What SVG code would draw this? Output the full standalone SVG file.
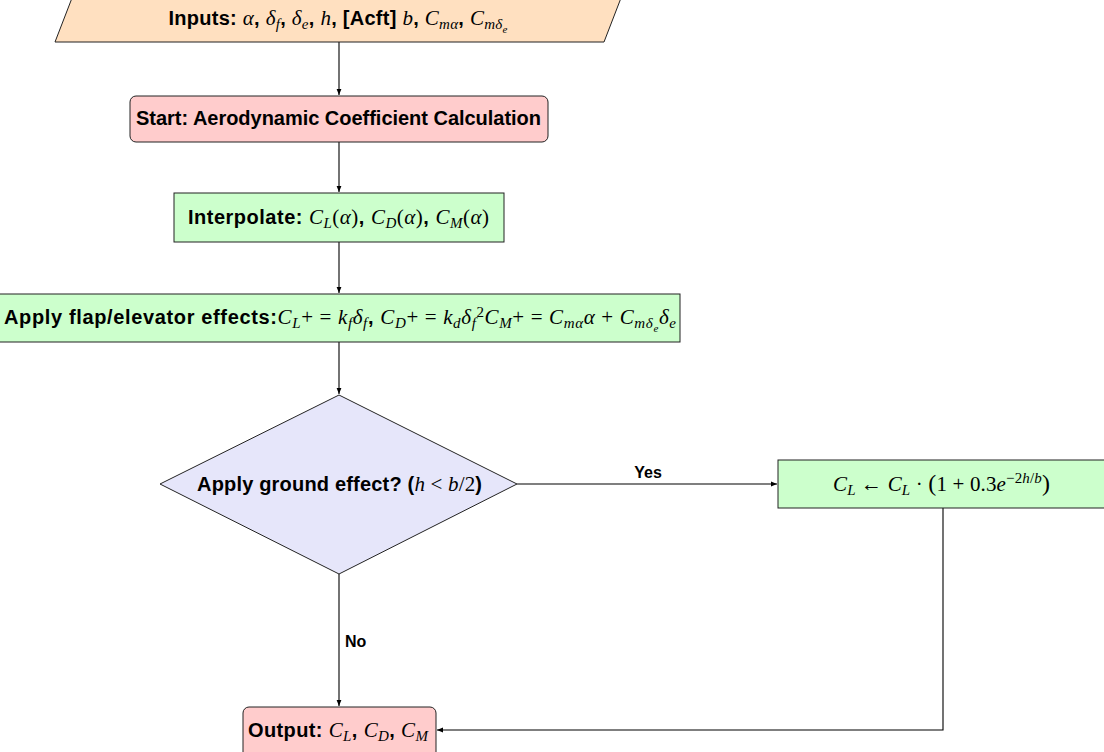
<svg xmlns="http://www.w3.org/2000/svg" width="1104" height="752" viewBox="0 0 1104 752">
<style>
.lbl{font-family:"Liberation Sans",Arial,sans-serif;font-weight:bold;font-size:20px;fill:#000}
.m{font-family:"Liberation Serif","Times New Roman",serif;font-style:italic;font-weight:normal;font-size:21px}
.r{font-family:"Liberation Serif","Times New Roman",serif;font-style:normal;font-weight:normal;font-size:21px}
.s{font-size:15px}
.ss{font-size:11px}
.edge{fill:none;stroke:#000;stroke-width:1.1}
.yn{font-family:"Liberation Sans",Arial,sans-serif;font-weight:bold;font-size:16px;fill:#000}
</style>
<defs>
<marker id="ah" viewBox="0 0 10 10" refX="10" refY="5" markerWidth="6" markerHeight="6" markerUnits="userSpaceOnUse" orient="auto">
<path d="M0,1 L10,5 L0,9 z" fill="#000"/>
</marker>
</defs>
<rect width="1104" height="752" fill="#fff"/>
<g id="connectors">
<path class="edge" d="M339,42 L339,95" marker-end="url(#ah)"/>
<path class="edge" d="M339,142 L339,192" marker-end="url(#ah)"/>
<path class="edge" d="M339,242 L339,293" marker-end="url(#ah)"/>
<path class="edge" d="M339,342 L339,394" marker-end="url(#ah)"/>
<path class="edge" d="M517,484 L777,484" marker-end="url(#ah)"/>
<text class="yn" x="648" y="478" text-anchor="middle">Yes</text>
<path class="edge" d="M339,574 L339,706" marker-end="url(#ah)"/>
<text class="yn" x="345" y="647">No</text>
<path class="edge" d="M943,508 L943,730 L437,730" marker-end="url(#ah)"/>
</g>
<g id="inputs">
<polygon points="72,-2 621,-2 604,42 55,42" fill="#ffe0c0" stroke="#222" stroke-width="1"/>
<text class="lbl" x="338" y="25" text-anchor="middle" textLength="339" lengthAdjust="spacing">Inputs: <tspan class="m">α</tspan>, <tspan class="m">δ</tspan><tspan class="m s" baseline-shift="-4">f</tspan>, <tspan class="m">δ</tspan><tspan class="m s" baseline-shift="-4">e</tspan>, <tspan class="m">h</tspan>, [Acft] <tspan class="m">b</tspan>, <tspan class="m">C</tspan><tspan class="m s" baseline-shift="-4">mα</tspan>, <tspan class="m">C</tspan><tspan class="m s" baseline-shift="-4">mδ</tspan><tspan class="m ss" baseline-shift="-8">e</tspan></text>
</g>
<g id="start">
<rect x="130" y="96" width="418" height="46" rx="6" fill="#ffcccc" stroke="#222" stroke-width="1"/>
<text class="lbl" x="338.5" y="125" text-anchor="middle" textLength="405" lengthAdjust="spacing">Start: Aerodynamic Coefficient Calculation</text>
</g>
<g id="interpolate">
<rect x="174" y="193" width="330" height="49" fill="#ccffcc" stroke="#222" stroke-width="1"/>
<text class="lbl" x="338.5" y="224" text-anchor="middle" textLength="301" lengthAdjust="spacing">Interpolate: <tspan class="m">C</tspan><tspan class="m s" baseline-shift="-4">L</tspan><tspan class="r">(</tspan><tspan class="m">α</tspan><tspan class="r">)</tspan>, <tspan class="m">C</tspan><tspan class="m s" baseline-shift="-4">D</tspan><tspan class="r">(</tspan><tspan class="m">α</tspan><tspan class="r">)</tspan>, <tspan class="m">C</tspan><tspan class="m s" baseline-shift="-4">M</tspan><tspan class="r">(</tspan><tspan class="m">α</tspan><tspan class="r">)</tspan></text>
</g>
<g id="effects">
<rect x="-1" y="294" width="681" height="48" fill="#ccffcc" stroke="#222" stroke-width="1"/>
<text class="lbl" x="340" y="324" text-anchor="middle" textLength="672" lengthAdjust="spacing">Apply flap/elevator effects:<tspan class="m">C</tspan><tspan class="m s" baseline-shift="-4">L</tspan><tspan class="r">+ = </tspan><tspan class="m">k</tspan><tspan class="m s" baseline-shift="-4">f</tspan><tspan class="m">δ</tspan><tspan class="m s" baseline-shift="-4">f</tspan>, <tspan class="m">C</tspan><tspan class="m s" baseline-shift="-4">D</tspan><tspan class="r">+ = </tspan><tspan class="m">k</tspan><tspan class="m s" baseline-shift="-4">d</tspan><tspan class="m">δ</tspan><tspan class="m s" baseline-shift="-4">f</tspan><tspan class="r s" baseline-shift="7">2</tspan><tspan class="m">C</tspan><tspan class="m s" baseline-shift="-4">M</tspan><tspan class="r">+ = </tspan><tspan class="m">C</tspan><tspan class="m s" baseline-shift="-4">mα</tspan><tspan class="m">α</tspan><tspan class="r"> + </tspan><tspan class="m">C</tspan><tspan class="m s" baseline-shift="-4">mδ</tspan><tspan class="m ss" baseline-shift="-8">e</tspan><tspan class="m">δ</tspan><tspan class="m s" baseline-shift="-4">e</tspan></text>
</g>
<g id="decision">
<polygon points="339,395 517,484 339,574 160,484" fill="#e6e6fa" stroke="#222" stroke-width="1"/>
<text class="lbl" x="339.5" y="491" text-anchor="middle" textLength="285" lengthAdjust="spacing">Apply ground effect? (<tspan class="m">h</tspan><tspan class="r"> &lt; </tspan><tspan class="m">b</tspan><tspan class="r">/2</tspan>)</text>
</g>
<g id="groundeffect">
<rect x="778" y="460" width="330" height="48" fill="#ccffcc" stroke="#222" stroke-width="1"/>
<text class="r" x="941.5" y="491" text-anchor="middle" textLength="217" lengthAdjust="spacing"><tspan class="m">C</tspan><tspan class="m s" baseline-shift="-4">L</tspan> ← <tspan class="m">C</tspan><tspan class="m s" baseline-shift="-4">L</tspan> · <tspan font-size="24px">(</tspan>1 + 0.3<tspan class="m">e</tspan><tspan class="s" baseline-shift="8">−2<tspan class="m s">h</tspan>/<tspan class="m s">b</tspan></tspan><tspan font-size="24px">)</tspan></text>
</g>
<g id="output">
<rect x="243" y="707" width="193" height="52" rx="6" fill="#ffcccc" stroke="#222" stroke-width="1"/>
<text class="lbl" x="338" y="737" text-anchor="middle" textLength="180" lengthAdjust="spacing">Output: <tspan class="m">C</tspan><tspan class="m s" baseline-shift="-4">L</tspan>, <tspan class="m">C</tspan><tspan class="m s" baseline-shift="-4">D</tspan>, <tspan class="m">C</tspan><tspan class="m s" baseline-shift="-4">M</tspan></text>
</g>
</svg>
